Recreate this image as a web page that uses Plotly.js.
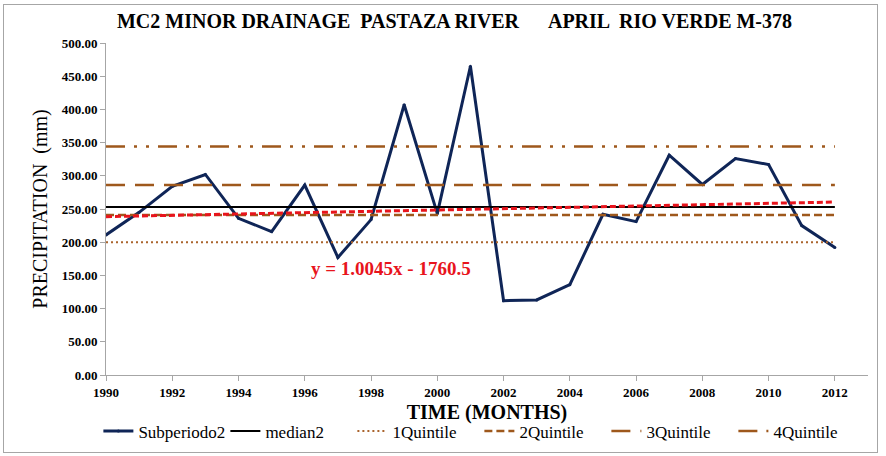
<!DOCTYPE html>
<html>
<head>
<meta charset="utf-8">
<script src="https://cdn.plot.ly/plotly-3.0.1.min.js"></script>
<style>
html,body{margin:0;padding:0;background:#fff;}
#wrap{position:relative;width:886px;height:456px;}
#chart{width:886px;height:456px;}
#frame{position:absolute;left:3px;top:4px;width:873px;height:447px;border:1px solid #a6a6a6;pointer-events:none;}
</style>
</head>
<body>
<div id="wrap"><div id="chart"></div><div id="frame"></div></div>
<script>
// Data
const years = [1990,1991,1992,1993,1994,1995,1996,1997,1998,1999,2000,2001,2002,2003,2004,2005,2006,2007,2008,2009,2010,2011,2012];
const subperiodo2 = [211,245,284,302,236,216,286,177,234,407,243,465,112,113,136,242,231,331,287,326,317,225,192];
const lineYears = [1990, 2012];
const median2 = [253, 253];
const quintile1 = [200, 200];
const quintile2 = [241, 241];
const quintile3 = [286, 286];
const quintile4 = [344, 344];
const trend = [238.5, 260.5];
const trendLabel = "y = 1.0045x - 1760.5";
const yTicks = [0,50,100,150,200,250,300,350,400,450,500];
const xTicks = [1990,1992,1994,1996,1998,2000,2002,2004,2006,2008,2010,2012];

const brown = "rgb(158,88,28)";
const serif = "Liberation Serif";

const traces = [
  {x: years, y: subperiodo2, name: "Subperiodo2", mode: "lines+markers",
   line: {color: "#0f2557", width: 3}, marker: {size: 3, color: "#0f2557"}},
  {x: lineYears, y: median2, name: "median2", mode: "lines",
   line: {color: "#000000", width: 2}},
  {x: lineYears, y: quintile1, name: "1Quintile", mode: "lines",
   line: {color: "rgb(170,100,45)", width: 2, dash: "2px,3px"}},
  {x: lineYears, y: quintile2, name: "2Quintile", mode: "lines",
   line: {color: brown, width: 2.5, dash: "8px,4px"}},
  {x: lineYears, y: quintile3, name: "3Quintile", mode: "lines",
   line: {color: brown, width: 2.5, dash: "19px,10px"}},
  {x: lineYears, y: quintile4, name: "4Quintile", mode: "lines",
   line: {color: brown, width: 2.5, dash: "19px,9px,3px,9px,3px,9px"}},
  {x: lineYears, y: trend, name: "Lineal", mode: "lines", showlegend: false,
   line: {color: "#e8141c", width: 3, dash: "6px,3px"}}
];

const layout = {
  width: 886, height: 456,
  margin: {l: 106, r: 18, t: 43, b: 81, autoexpand: false},
  paper_bgcolor: "#ffffff", plot_bgcolor: "#ffffff",
  showlegend: true,
  title: {text: "MC2 MINOR DRAINAGE  PASTAZA RIVER      APRIL  RIO VERDE M-378",
          font: {family: serif, size: 20, color: "#000", weight: "bold"},
          x: 0.513, xref: "container", xanchor: "center", y: 0.955, yanchor: "middle"},
  xaxis: {range: [1990, 2013], tickvals: xTicks, ticktext: xTicks.map(String), automargin: false,
          showgrid: false, zeroline: false, showline: true, linecolor: "#a6a6a6", linewidth: 1,
          ticks: "outside", ticklen: 5, tickcolor: "#a6a6a6",
          tickfont: {family: serif, size: 13, color: "#000", weight: "bold"},
          title: {text: "TIME (MONTHS)", font: {family: serif, size: 20, color: "#000", weight: "bold"}, standoff: 6}},
  yaxis: {range: [0, 500], tickvals: yTicks, tickformat: ".2f", automargin: false,
          showgrid: false, zeroline: false, showline: true, linecolor: "#a6a6a6", linewidth: 1,
          ticks: "outside", ticklen: 5, tickcolor: "#a6a6a6",
          tickfont: {family: serif, size: 13, color: "#000", weight: "bold"},
          title: {text: "PRECIPITATION  (mm)", font: {family: serif, size: 20, color: "#000"}, standoff: 8}},
  legend: {orientation: "h", x: 0.49, xanchor: "center", y: -0.17, yanchor: "middle",
           font: {family: serif, size: 17, color: "#000"}, entrywidth: 82, entrywidthmode: "pixels",
           itemwidth: 30, tracegroupgap: 0},
  annotations: [{x: 1998.6, y: 161, xref: "x", yref: "y", text: trendLabel, showarrow: false,
                 font: {family: serif, size: 19, color: "#e8141c", weight: "bold"}}]
};

Plotly.newPlot("chart", traces, layout, {displayModeBar: false, staticPlot: true});
</script>
</body>
</html>
